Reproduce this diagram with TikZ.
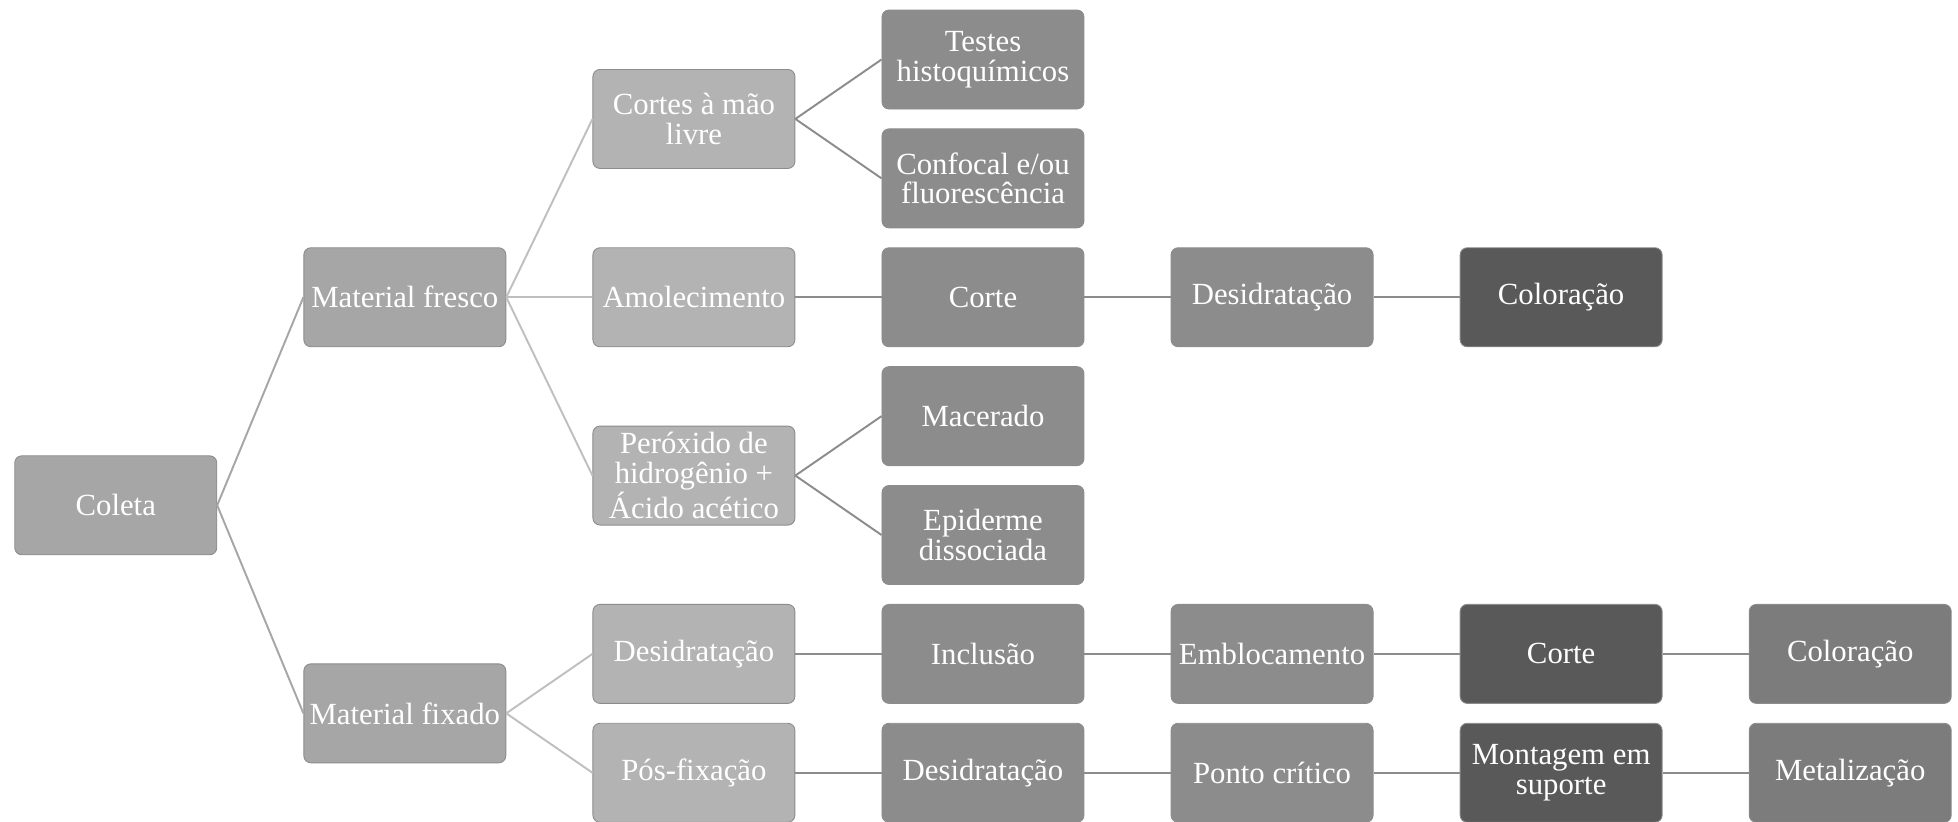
\documentclass[tikz,border=0pt]{standalone}
\usepackage{fontspec}
\setmainfont{Liberation Serif}
\usetikzlibrary{positioning, calc}
\definecolor{midgrey}{HTML}{A6A6A6}
\definecolor{lightgrey}{HTML}{B3B3B3}
\definecolor{stepgrey}{HTML}{8C8C8C}
\definecolor{endgrey}{HTML}{7C7C7C}
\definecolor{darkgrey}{HTML}{595959}

\begin{document}
\begin{tikzpicture}[
    node distance=0.38cm and 1.724cm,
    font=\fontsize{17.5}{17}\selectfont,
    box/.style={draw=white!55!black, line width=0.5pt, rectangle, rounded corners=4pt, minimum width=4.04cm, minimum height=1.98cm, inner sep=1pt, align=center, text=white},
    rootnode/.style={box, fill=midgrey},
    branchnode/.style={box, fill=lightgrey},
    stepnode/.style={box, fill=stepgrey},
    darknode/.style={box, fill=darkgrey},
    endnode/.style={box, fill=endgrey},
    linkA/.style={draw=midgrey, line width=1.1pt},
    linkB/.style={draw=black!25, line width=1.1pt},
    linkC/.style={draw=black!45, line width=1.1pt}
  ]

  \useasboundingbox (-19.66,1.19) rectangle (19.5,-15.23);

  % middle column
  \node (testes) [stepnode] at (0,0) {Testes\\histoquímicos};
  \node (confocal) [stepnode, below=of testes] {Confocal e/ou\\fluorescência};
  \node (corteA) [stepnode, below=of confocal] {Corte};
  \node (macerado) [stepnode, below=of corteA] {Macerado};
  \node (epiderme) [stepnode, below=of macerado] {Epiderme\\dissociada};
  \node (inclusao) [stepnode, below=of epiderme] {Inclusão};
  \node (desidC) [stepnode, below=of inclusao] {Desidratação};

  % treatments
  \node (cortes) [branchnode, left=of $(testes.west)!0.5!(confocal.west)$] {Cortes à mão\\livre};
  \node (amolec) [branchnode, left=of corteA] {Amolecimento};
  \node (peroxido) [branchnode, left=of $(macerado.west)!0.5!(epiderme.west)$] {Peróxido de\\hidrogênio +\\Ácido acético};
  \node (desidB) [branchnode, left=of inclusao] {Desidratação};
  \node (posfix) [branchnode, left=of desidC] {Pós-fixação};

  % material
  \node (fresco) [rootnode, left=of amolec] {Material fresco};
  \node (fixado) [rootnode, left=of $(desidB.west)!0.5!(posfix.west)$] {Material fixado};
  \node (coleta) [rootnode, left=of $(fresco.west)!0.5!(fixado.west)$] {Coleta};

  % right side
  \node (desidA) [stepnode, right=of corteA] {Desidratação};
  \node (coloracaoA) [darknode, right=of desidA] {Coloração};
  \node (embloc) [stepnode, right=of inclusao] {Emblocamento};
  \node (corteB) [darknode, right=of embloc] {Corte};
  \node (coloracaoB) [endnode, right=of corteB] {Coloração};
  \node (ponto) [stepnode, right=of desidC] {Ponto crítico};
  \node (montagem) [darknode, right=of ponto] {Montagem em\\suporte};
  \node (metal) [endnode, right=of montagem] {Metalização};

  \draw[linkA] (coleta.east) -- (fresco.west);
  \draw[linkA] (coleta.east) -- (fixado.west);

  \draw[linkB] (fresco.east) -- (cortes.west);
  \draw[linkB] (fresco.east) -- (amolec.west);
  \draw[linkB] (fresco.east) -- (peroxido.west);
  \draw[linkB] (fixado.east) -- (desidB.west);
  \draw[linkB] (fixado.east) -- (posfix.west);

  \draw[linkC] (cortes.east) -- (testes.west);
  \draw[linkC] (cortes.east) -- (confocal.west);
  \draw[linkC] (amolec) -- (corteA);
  \draw[linkC] (peroxido.east) -- (macerado.west);
  \draw[linkC] (peroxido.east) -- (epiderme.west);
  \draw[linkC] (desidB) -- (inclusao);
  \draw[linkC] (posfix) -- (desidC);

  \draw[linkC] (corteA) -- (desidA);
  \draw[linkC] (desidA) -- (coloracaoA);
  \draw[linkC] (inclusao) -- (embloc);
  \draw[linkC] (embloc) -- (corteB);
  \draw[linkC] (corteB) -- (coloracaoB);
  \draw[linkC] (desidC) -- (ponto);
  \draw[linkC] (ponto) -- (montagem);
  \draw[linkC] (montagem) -- (metal);

\end{tikzpicture}
\end{document}
